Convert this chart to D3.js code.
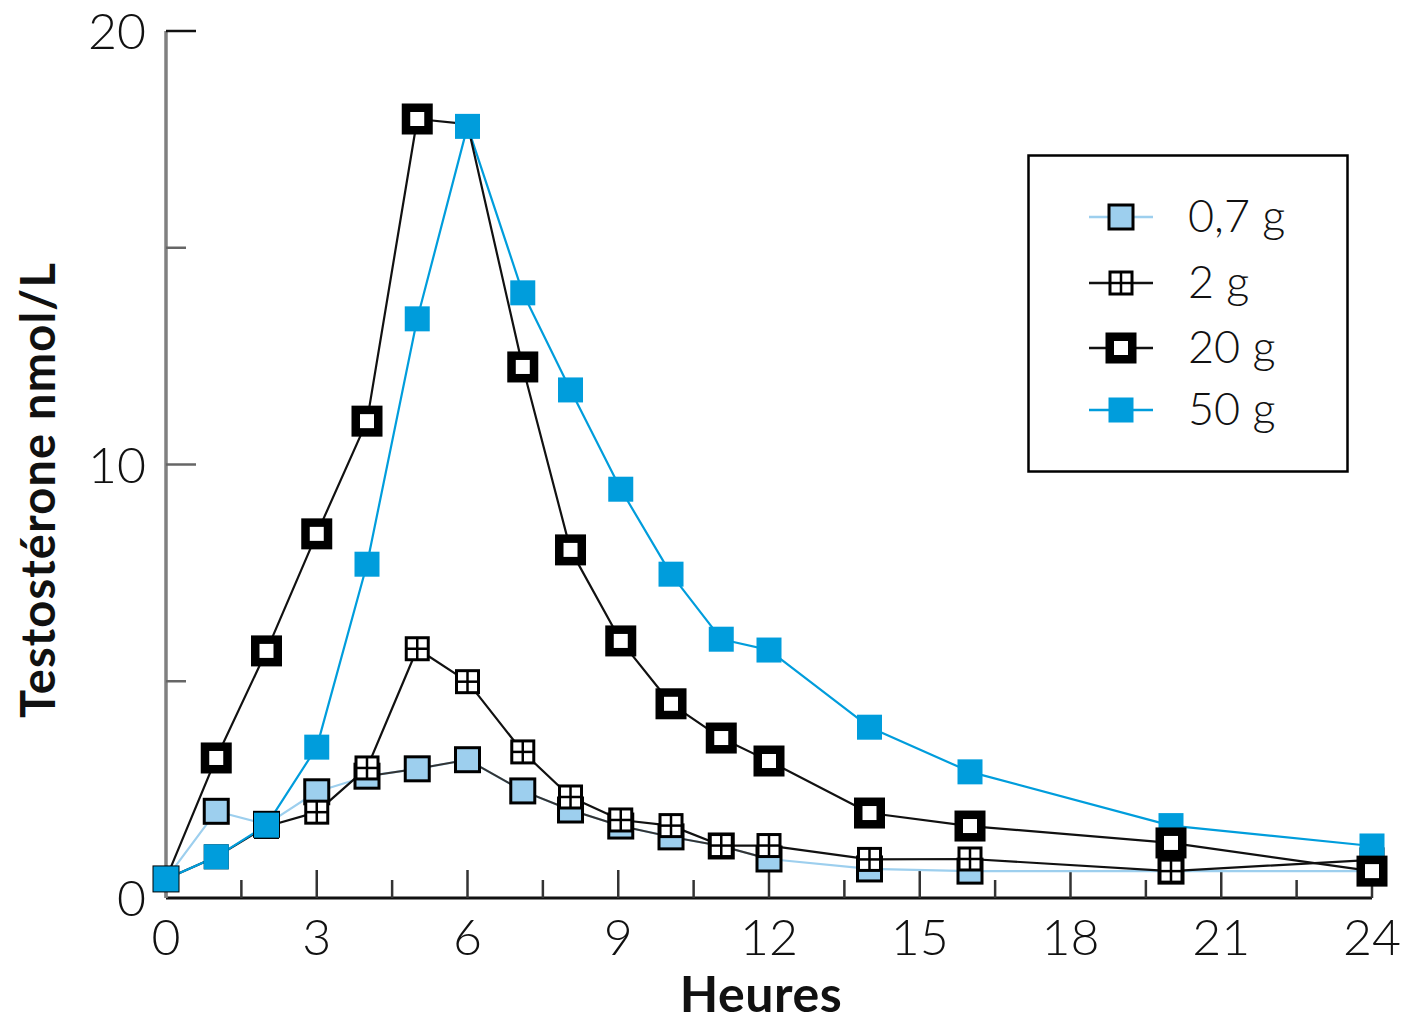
<!DOCTYPE html>
<html>
<head>
<meta charset="utf-8">
<script src="https://cdn.jsdelivr.net/npm/d3@7"></script>
<style>
  html, body { margin: 0; padding: 0; background: #fff; }
  svg { display: block; }
  text { font-family: Lato, "Open Sans", sans-serif; fill: #111; }
</style>
</head>
<body>
<svg id="chart" width="1403" height="1023"></svg>
<script>
// Sampling times (hours after intake)
const hours = [0, 1, 2, 3, 4, 5, 6, 7.1, 8.05, 9.05, 10.05, 11.05, 12, 14, 16, 20, 24];

// Serum testosterone (nmol/L) for each dose
const dose07 = [0.44, 2.0, 1.7, 2.45, 2.81, 2.98, 3.19, 2.47, 2.03, 1.66, 1.41, 1.2, 0.9, 0.67, 0.62, 0.62, 0.62];
const dose2  = [0.44, 0.95, 1.65, 1.98, 3.0, 5.75, 4.99, 3.37, 2.33, 1.8, 1.67, 1.21, 1.21, 0.89, 0.9, 0.62, 0.88];
const dose20 = [0.44, 3.23, 5.7, 8.4, 11.0, 17.97, 17.85, 12.25, 8.03, 5.93, 4.48, 3.69, 3.16, 1.96, 1.66, 1.27, 0.62];
const dose50 = [0.44, 0.95, 1.68, 3.48, 7.7, 13.36, 17.8, 13.96, 11.72, 9.43, 7.47, 5.97, 5.72, 3.94, 2.91, 1.67, 1.2];

// Hours where the 20 g curve passes without its own symbol
const noSymbol20 = [0, 6];

const seriesNames = ["0,7 g", "2 g", "20 g", "50 g"];
const xTickLabels = ["0", "3", "6", "9", "12", "15", "18", "21", "24"];
const yTickLabels = ["0", "10", "20"];

const LIGHT = "#9dcfee", BLUE = "#009ddc";

const series = [
  { name: seriesNames[0], values: dose07, kind: "light", stroke: LIGHT, width: 2.2, darkFrom: 4, darkTo: 12 },
  { name: seriesNames[1], values: dose2,  kind: "grid",  stroke: "#111", width: 2.2 },
  { name: seriesNames[3], values: dose50, kind: "solid", stroke: BLUE,  width: 2.2 },
  { name: seriesNames[2], values: dose20, kind: "thick", stroke: "#111", width: 2.2, skip: noSymbol20 }
];
const legendOrder = [0, 1, 3, 2];

const svg = d3.select("#chart");
const x = d3.scaleLinear().domain([0, 24]).range([166, 1372]);
const y = d3.scaleLinear().domain([0, 20]).range([898, 31]);

// ---- axes ----
const gx = svg.append("g");
gx.append("line").attr("x1", x(0)).attr("x2", x(24)).attr("y1", y(0)).attr("y2", y(0))
  .attr("stroke", "#111").attr("stroke-width", 3);
const xTicks = d3.range(0, 24.01, 1.5);
gx.selectAll("line.t").data(xTicks).join("line").attr("class", "t")
  .attr("x1", d => x(d)).attr("x2", d => x(d))
  .attr("y1", y(0)).attr("y2", d => y(0) - (d % 3 === 0 ? 28 : 18))
  .attr("stroke", "#333").attr("stroke-width", 2.5);
gx.selectAll("text").data(xTickLabels).join("text")
  .attr("x", d => x(+d)).attr("y", 955).attr("text-anchor", "middle")
  .attr("font-size", 50).attr("font-weight", 300).text(d => d);

const gy = svg.append("g");
gy.append("line").attr("x1", x(0)).attr("x2", x(0)).attr("y1", y(0)).attr("y2", y(20))
  .attr("stroke", "#808080").attr("stroke-width", 3.5);
const yTicks = d3.range(5, 20.01, 5);
gy.selectAll("line.t").data(yTicks).join("line").attr("class", "t")
  .attr("x1", x(0)).attr("x2", d => x(0) + (d % 10 === 0 ? 30 : 20))
  .attr("y1", d => y(d)).attr("y2", d => y(d))
  .attr("stroke", d => d === 20 ? "#111" : "#666").attr("stroke-width", 2.5);
gy.selectAll("text").data(yTickLabels).join("text")
  .attr("x", 146).attr("y", d => y(+d) + 18).attr("text-anchor", "end")
  .attr("font-size", 50).attr("font-weight", 300).text(d => d);

svg.append("text").attr("x", x(12) - 8).attr("y", 1012).attr("text-anchor", "middle")
  .attr("font-size", 50).attr("font-weight", 700).attr("letter-spacing", 0.5).text("Heures");
svg.append("text").attr("transform", "translate(55,490) rotate(-90)")
  .attr("text-anchor", "middle").attr("font-size", 47).attr("font-weight", 700)
  .attr("letter-spacing", 1.2)
  .text("Testostérone nmol/L");

// ---- curves ----
const line = d3.line().x(d => x(d[0])).y(d => y(d[1]));
const gLines = svg.append("g");
series.forEach(s => {
  const pts = hours.map((h, i) => [h, s.values[i]]);
  gLines.append("path").attr("d", line(pts)).attr("fill", "none")
    .attr("stroke", s.stroke).attr("stroke-width", s.width).attr("stroke-linejoin", "round");
  if (s.darkFrom !== undefined) {
    const mid = pts.filter(p => p[0] >= s.darkFrom && p[0] <= s.darkTo);
    gLines.append("path").attr("d", line(mid)).attr("fill", "none")
      .attr("stroke", "#333").attr("stroke-width", 2);
  }
});

// ---- symbols ----
function symbol(g, kind) {
  if (kind === "light") {
    g.append("rect").attr("x", -12).attr("y", -12).attr("width", 24).attr("height", 24)
      .attr("fill", LIGHT).attr("stroke", "#000").attr("stroke-width", 3);
  } else if (kind === "grid") {
    g.append("rect").attr("x", -11).attr("y", -11).attr("width", 22).attr("height", 22)
      .attr("fill", "#fff").attr("stroke", "#000").attr("stroke-width", 3);
    g.append("line").attr("x1", 0).attr("x2", 0).attr("y1", -11).attr("y2", 11)
      .attr("stroke", "#000").attr("stroke-width", 2.5);
    g.append("line").attr("x1", -11).attr("x2", 11).attr("y1", 0).attr("y2", 0)
      .attr("stroke", "#000").attr("stroke-width", 2.5);
  } else if (kind === "thick") {
    g.append("rect").attr("x", -11.25).attr("y", -11.25).attr("width", 22.5).attr("height", 22.5)
      .attr("fill", "#fff").attr("stroke", "#000").attr("stroke-width", 8.5);
  } else {
    g.append("rect").attr("x", -12.5).attr("y", -12.5).attr("width", 25).attr("height", 25)
      .attr("fill", BLUE);
  }
}

const gMarks = svg.append("g");
series.forEach(s => {
  hours.forEach((h, i) => {
    if (s.skip && s.skip.includes(h)) return;
    const g = gMarks.append("g").attr("transform", `translate(${x(h)},${y(s.values[i])})`);
    symbol(g, s.kind);
  });
});

// ---- legend ----
const lg = svg.append("g");
lg.append("rect").attr("x", 1028.5).attr("y", 155.5).attr("width", 319).attr("height", 316)
  .attr("fill", "#fff").attr("stroke", "#000").attr("stroke-width", 2.5);
const rowY = [217, 283, 348, 410];
legendOrder.forEach((si, r) => {
  const s = series[si];
  lg.append("line").attr("x1", 1089).attr("x2", 1153).attr("y1", rowY[r]).attr("y2", rowY[r])
    .attr("stroke", s.stroke).attr("stroke-width", 2.5);
  symbol(lg.append("g").attr("transform", `translate(1121,${rowY[r]})`), s.kind);
  lg.append("text").attr("x", 1188).attr("y", rowY[r] + 15).attr("font-size", 45)
    .attr("font-weight", 300).text(s.name);
});
</script>
</body>
</html>
